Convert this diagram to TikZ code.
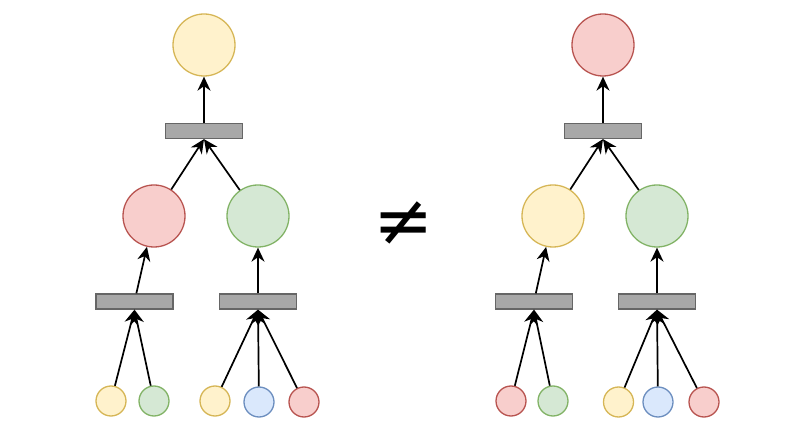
\documentclass[tikz,border=0pt]{standalone}
\usepackage{fontspec}
\newfontfamily\neqfont{DejaVu Sans}
\usetikzlibrary{arrows.meta}
\definecolor{yelfill}{HTML}{FFF2CC}
\definecolor{yeldraw}{HTML}{D6B656}
\definecolor{redfill}{HTML}{F8CECC}
\definecolor{reddraw}{HTML}{B85450}
\definecolor{grnfill}{HTML}{D5E8D4}
\definecolor{grndraw}{HTML}{82B366}
\definecolor{blufill}{HTML}{DAE8FC}
\definecolor{bludraw}{HTML}{6C8EBF}
\definecolor{barfill}{HTML}{A8A8A8}
\definecolor{bardraw}{HTML}{666666}
\tikzset{
  >={Stealth[length=14pt,width=13pt,inset=4.5pt]},
}
\tikzstyle{var}=[circle,line width=1.3pt,inner sep=0pt,minimum size=62pt]
\tikzstyle{leaf}=[var,minimum size=30pt]
\tikzstyle{yel}=[fill=yelfill,draw=yeldraw]
\tikzstyle{red}=[fill=redfill,draw=reddraw]
\tikzstyle{grn}=[fill=grnfill,draw=grndraw]
\tikzstyle{blu}=[fill=blufill,draw=bludraw]
\tikzstyle{factor}=[draw=bardraw,fill=barfill,line width=1.3pt,
  minimum width=77pt,minimum height=15pt,inner sep=0pt]
\tikzstyle{edge}=[line width=1.7pt,->]

\begin{document}
\begin{tikzpicture}[x=1pt,y=-1pt]
  \useasboundingbox (0,0) rectangle (807,446);
  % left tree
  \node[var,yel] (Ltop) at (204,45) {};
  \node[factor] (Lf) at (204,131) {};
  \node[var,red] (La) at (154,216) {};
  \node[var,grn] (Lb) at (258,216) {};
  \node[factor] (Lfa) at (134.5,301.5) {};
  \node[factor] (Lfb) at (258,301.5) {};
  \node[leaf,yel] (L1) at (111,401) {};
  \node[leaf,grn] (L2) at (154,401) {};
  \node[leaf,yel] (L3) at (215,401) {};
  \node[leaf,blu] (L4) at (259,402) {};
  \node[leaf,red] (L5) at (304,402) {};
  \draw[edge] (Lf.north) -- (Ltop.south);
  \draw[edge] (La) -- (Lf.south);
  \draw[edge] (Lb) -- (Lf.south);
  \draw[edge] (Lfa) -- (La);
  \draw[edge] (Lfb.north) -- (Lb.south);
  \foreach \n in {L1,L2}
    \draw[edge] (\n) -- (Lfa.south);
  \foreach \n in {L3,L4,L5}
    \draw[edge] (\n) -- (Lfb.south);

  \node[font=\neqfont\fontsize{72}{72}\selectfont] (neq) at (404,224) {≠};

  % right tree
  \node[var,red] (Rtop) at (603,45) {};
  \node[factor] (Rf) at (603,131) {};
  \node[var,yel] (Ra) at (553,216) {};
  \node[var,grn] (Rb) at (657,216) {};
  \node[factor] (Rfa) at (534,301.5) {};
  \node[factor] (Rfb) at (657,301.5) {};
  \node[leaf,red] (R1) at (511,401) {};
  \node[leaf,grn] (R2) at (553,401) {};
  \node[leaf,yel] (R3) at (618.5,402) {};
  \node[leaf,blu] (R4) at (658,402) {};
  \node[leaf,red] (R5) at (704,402) {};
  \draw[edge] (Rf.north) -- (Rtop.south);
  \draw[edge] (Ra) -- (Rf.south);
  \draw[edge] (Rb) -- (Rf.south);
  \draw[edge] (Rfa) -- (Ra);
  \draw[edge] (Rfb.north) -- (Rb.south);
  \foreach \n in {R1,R2}
    \draw[edge] (\n) -- (Rfa.south);
  \foreach \n in {R3,R4,R5}
    \draw[edge] (\n) -- (Rfb.south);
\end{tikzpicture}
\end{document}
